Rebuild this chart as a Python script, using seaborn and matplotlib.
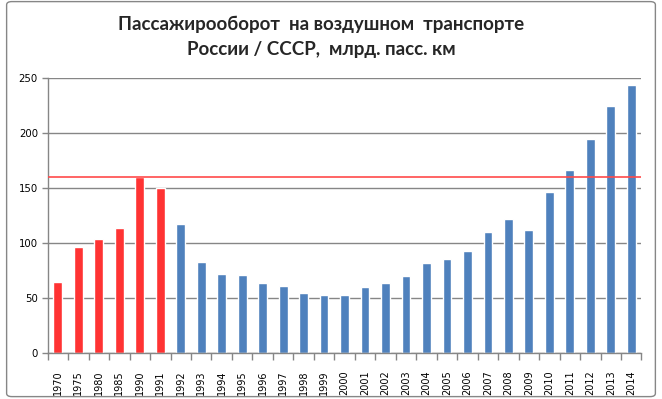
import matplotlib
matplotlib.use("Agg")
import matplotlib.pyplot as plt
import seaborn as sns
import pandas as pd
from matplotlib.patches import FancyBboxPatch
from matplotlib.ticker import FixedLocator, NullFormatter

years = ["1970", "1975", "1980", "1985", "1990", "1991", "1992", "1993", "1994", "1995",
         "1996", "1997", "1998", "1999", "2000", "2001", "2002", "2003", "2004", "2005",
         "2006", "2007", "2008", "2009", "2010", "2011", "2012", "2013", "2014"]
values = [65, 97, 104, 114, 160, 150, 118, 83, 72, 71,
          64, 61, 55, 53, 53, 60, 64, 70, 82, 86,
          93, 110, 122, 112, 147, 167, 195, 225, 244]
period = ["СССР"] * 6 + ["Россия"] * 23
ref_level = 160
title_lines = ["Пассажирооборот  на воздушном  транспорте", "России / СССР,  млрд. пасс. км"]

sns.set_theme(style="white")
plt.rcParams["font.family"] = ["DejaVu Sans"]

df = pd.DataFrame({"year": years, "value": values, "period": period})

fig = plt.figure(figsize=(6.62, 3.99), dpi=100)
ax = fig.add_axes([0.072, 0.1145, 0.897, 0.6893])

sns.barplot(data=df, x="year", y="value", hue="period",
            palette={"СССР": "#ff3333", "Россия": "#4f81bd"},
            dodge=False, width=0.43, legend=False, ax=ax, saturation=1)

ax.set_ylim(0, 250)
ax.set_xlim(-0.5, len(years) - 0.5)
ax.set_yticks([0, 50, 100, 150, 200, 250])
ax.yaxis.grid(True, color="#868686", linewidth=1, linestyle="-")
ax.set_axisbelow(True)
ax.axhline(ref_level, color="#ff4a4a", linewidth=1.2, linestyle="-", zorder=3)

ax.set_xlabel("")
ax.set_ylabel("")
for s in ["top", "right"]:
    ax.spines[s].set_visible(False)
for s in ["left", "bottom"]:
    ax.spines[s].set_color("#868686")
    ax.spines[s].set_linewidth(1)

ax.tick_params(axis="y", which="major", left=True, length=4, width=1, color="#868686",
               labelsize=7.3, labelcolor="black", pad=3)
ax.tick_params(axis="x", which="major", bottom=False, labelsize=7, labelrotation=90,
               labelcolor="black", pad=6.5)
ax.xaxis.set_minor_locator(FixedLocator([i - 0.5 for i in range(len(years) + 1)]))
ax.xaxis.set_minor_formatter(NullFormatter())
ax.tick_params(axis="x", which="minor", bottom=True, length=5, width=1, color="#868686")

fig.text(0.485, 0.940, title_lines[0], ha="center", va="center",
         fontsize=13.5, fontweight="bold", family=["Lato", "DejaVu Sans"])
fig.text(0.485, 0.876, title_lines[1], ha="center", va="center",
         fontsize=13.5, fontweight="bold", family=["Lato", "DejaVu Sans"])

frame = FancyBboxPatch((0.010, 0.006), 0.980, 0.990, boxstyle="round,pad=0,rounding_size=0.008",
                       transform=fig.transFigure, facecolor="none", edgecolor="#868686",
                       linewidth=1, zorder=0)
fig.patches.append(frame)

fig.savefig("out.png", dpi=100)
